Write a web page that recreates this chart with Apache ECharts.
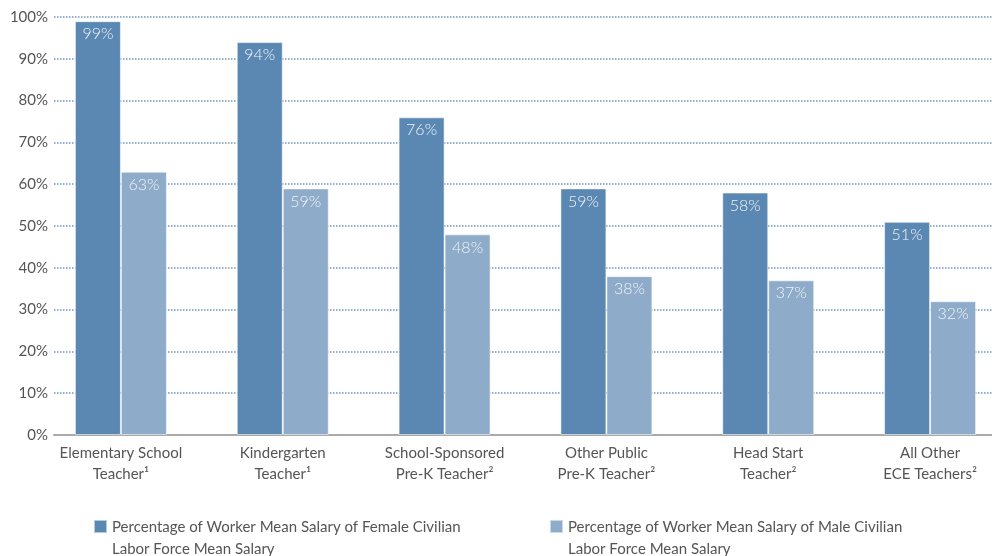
<!DOCTYPE html>
<html lang="en">
<head>
    <meta charset="UTF-8">
    <title>Teacher salary chart</title>
    <style>
        html, body { margin: 0; padding: 0; background: #fff; }
    </style>
</head>
<body>
    <div id="chart" style="width:992px;height:556px;"></div>
</body>
<script src="https://cdn.jsdelivr.net/npm/echarts@6/dist/echarts.min.js"></script>
<script>
    var categories = [
        'Elementary School\nTeacher¹',
        'Kindergarten\nTeacher¹',
        'School-Sponsored\nPre-K Teacher²',
        'Other Public\nPre-K Teacher²',
        'Head Start\nTeacher²',
        'All Other\nECE Teachers²'
    ];
    var femaleValues = [99, 94, 76, 59, 58, 51];
    var maleValues = [63, 59, 48, 38, 37, 32];
    var yTicks = [0, 10, 20, 30, 40, 50, 60, 70, 80, 90, 100];

    var femaleName = 'Percentage of Worker Mean Salary of Female Civilian\nLabor Force Mean Salary';
    var maleName = 'Percentage of Worker Mean Salary of Male Civilian\nLabor Force Mean Salary';

    var darkBlue = '#5b88b2';
    var lightBlue = '#8eabc9';
    var textGray = '#555555';
    var font = 'Lato';

    // square at the top of a tall box, so the icon sits on the first text line
    var legendIcon = 'path://M0,0H13V13H0Z M0,36H0.01V36.01H0Z';

    var legendText = {
        color: textGray,
        fontFamily: font,
        fontSize: 15,
        lineHeight: 22
    };

    var barLabel = {
        show: true,
        position: 'insideTop',
        distance: 5,
        color: '#eef3f8',
        fontFamily: font,
        fontWeight: 300,
        fontSize: 16,
        formatter: '{c}%'
    };

    var option = {
        animation: false,
        legend: [
            {
                data: [femaleName],
                left: 88,
                top: 511,
                icon: legendIcon,
                itemWidth: 13,
                itemHeight: 36,
                textStyle: legendText,
                selectedMode: false
            },
            {
                data: [maleName],
                left: 544,
                top: 511,
                icon: legendIcon,
                itemWidth: 13,
                itemHeight: 36,
                textStyle: legendText,
                selectedMode: false
            }
        ],
        grid: [
            // bars (band runs past the right edge, like the original)
            { left: 40, width: 971, top: 17, bottom: 121, outerBoundsMode: 'none' },
            // axis lines, grid lines and y labels
            { left: 54, right: 0, top: 17, bottom: 121, outerBoundsMode: 'none' }
        ],
        xAxis: [
            {
                type: 'category',
                gridIndex: 0,
                data: categories,
                axisLine: { show: false },
                axisTick: { show: false },
                axisLabel: {
                    interval: 0,
                    margin: 8,
                    color: textGray,
                    fontFamily: font,
                    fontSize: 15,
                    lineHeight: 21
                }
            },
            {
                type: 'value',
                gridIndex: 1,
                min: 0,
                max: 1,
                axisLine: { show: true, lineStyle: { color: '#aaaaaa', width: 2 } },
                axisTick: { show: false },
                axisLabel: { show: false },
                splitLine: { show: false }
            }
        ],
        yAxis: [
            {
                type: 'value',
                gridIndex: 0,
                min: yTicks[0],
                max: yTicks[yTicks.length - 1],
                interval: 10,
                show: false
            },
            {
                type: 'value',
                gridIndex: 1,
                min: yTicks[0],
                max: yTicks[yTicks.length - 1],
                interval: 10,
                axisLine: { show: false },
                axisTick: { show: false },
                axisLabel: {
                    margin: 6,
                    color: textGray,
                    fontFamily: font,
                    fontSize: 15,
                    formatter: '{value}%'
                },
                splitLine: {
                    show: true,
                    showMinLine: false,
                    lineStyle: { color: '#6f96bd', type: 'dotted', width: 1.5 }
                }
            }
        ],
        series: [
            {
                name: femaleName,
                type: 'bar',
                xAxisIndex: 0,
                yAxisIndex: 0,
                data: femaleValues,
                barWidth: 46,
                barGap: 0,
                itemStyle: { color: darkBlue, borderColor: 'rgba(255,255,255,0.55)', borderWidth: 1 },
                label: barLabel
            },
            {
                name: maleName,
                type: 'bar',
                xAxisIndex: 0,
                yAxisIndex: 0,
                data: maleValues,
                barWidth: 46,
                barGap: 0,
                itemStyle: { color: lightBlue, borderColor: 'rgba(255,255,255,0.55)', borderWidth: 1 },
                label: barLabel
            }
        ]
    };

    var chart = echarts.init(document.getElementById('chart'));
    chart.setOption(option);
</script>
</html>
